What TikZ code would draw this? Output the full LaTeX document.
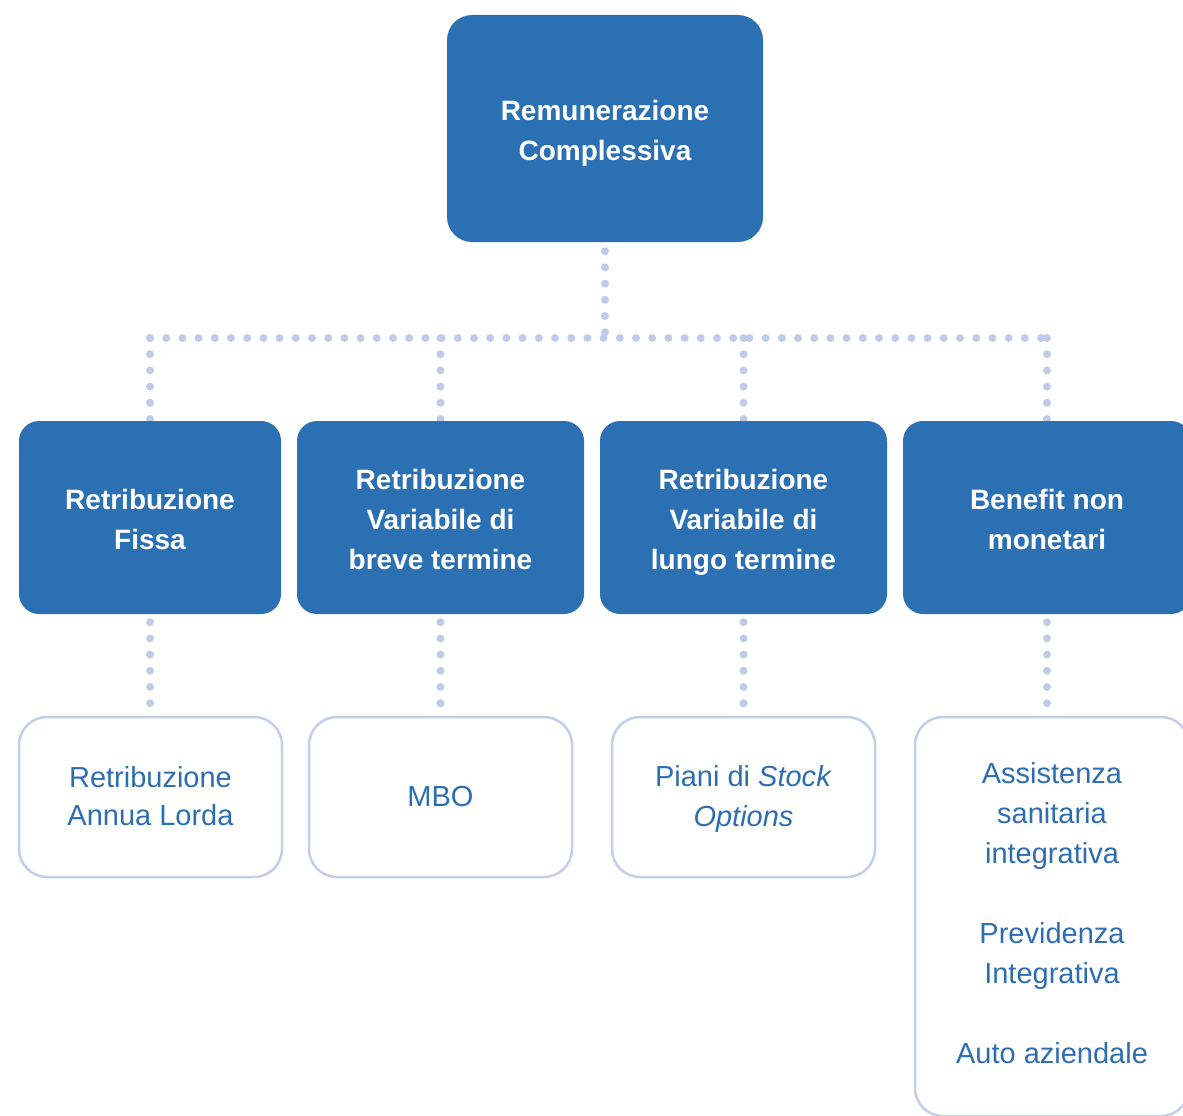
\documentclass[tikz,border=0pt]{standalone}
\usepackage{fontspec}
\setmainfont{Liberation Sans}
\usetikzlibrary{backgrounds}
\definecolor{boxblue}{HTML}{2C70B4}
\definecolor{txtblue}{HTML}{2D6EB1}
\definecolor{dotc}{HTML}{BFCBE8}
\definecolor{bord}{HTML}{C3CEEA}
\newcommand\hsb{\rule{0pt}{30pt}}
\newcommand\hsl{\rule{0pt}{26pt}}
\begin{document}
\begin{tikzpicture}[x=1pt,y=-1pt,
  dstrut/.style={execute at end node={\rule[-#1]{0pt}{#1}}},
  conn/.style={draw=dotc, line width=8pt, line cap=round, dash pattern=on 0pt off 16.2pt},
  topbox/.style={fill=boxblue, rounded corners=25pt, text=white, font=\fontsize{28}{40}\selectfont\bfseries, align=center, inner sep=0pt, dstrut=7pt},
  midbox/.style={fill=boxblue, rounded corners=20pt, text=white, font=\fontsize{28}{40}\selectfont\bfseries, align=center, inner sep=0pt, minimum height=193pt, dstrut=7pt},
  leaf/.style={draw=bord, line width=2.5pt, fill=white, rounded corners=28pt, text=txtblue, font=\fontsize{29}{40}\selectfont, align=center, inner sep=0pt, minimum height=160pt, minimum width=263pt, dstrut=8pt}]
\useasboundingbox (0,0) rectangle (1183,1116);
\clip (0,0) rectangle (1183,1116);
% top
\node[topbox, minimum width=316pt, minimum height=227pt] (top) at (605,128.5) {\hsb Remunerazione\\Complessiva};
% middle level
\node[midbox, minimum width=262pt] (m1) at (150,517.5) {\hsb Retribuzione\\Fissa};
\node[midbox, minimum width=287pt] (m2) at (440.5,517.5) {\hsb Retribuzione\\Variabile di\\breve termine};
\node[midbox, minimum width=287pt] (m3) at (743.5,517.5) {\hsb Retribuzione\\Variabile di\\lungo termine};
\node[midbox, minimum width=288pt] (m4) at (1047,517.5) {\hsb Benefit non\\monetari};
% leaves
\node[leaf, font=\fontsize{29}{38}\selectfont] (b1) at (150.5,797) {\hsl Retribuzione\\Annua Lorda};
\node[leaf] (b2) at (440.5,797) {\hsl MBO};
\node[leaf] (b3) at (743.5,797) {\hsl Piani di \textit{Stock}\\\textit{Options}};
\node[leaf, minimum width=274pt, minimum height=399pt, dstrut=13pt] (b4) at (1052,916.5)
  {\hsl Assistenza\\sanitaria\\integrativa\\[40pt]Previdenza\\Integrativa\\[40pt]Auto aziendale};
% connectors
\begin{scope}[on background layer]
\coordinate (j) at (605,338);
\draw[conn, shorten <=9pt] (top.south) -- (j);
\draw[conn] (m1.north |- j) -- (m4.north |- j);
\draw[conn] (m1.north |- j) -- (m1.north);
\draw[conn] (m2.north |- j) -- (m2.north);
\draw[conn] (m3.north |- j) -- (m3.north);
\draw[conn] (m4.north |- j) -- (m4.north);
\draw[conn, shorten <=8pt] (m1.south) -- (m1.south |- b1.north);
\draw[conn, shorten <=8pt] (m2.south) -- (m2.south |- b2.north);
\draw[conn, shorten <=8pt] (m3.south) -- (m3.south |- b3.north);
\draw[conn, shorten <=8pt] (m4.south) -- (m4.south |- b4.north);
\end{scope}
\end{tikzpicture}
\end{document}
